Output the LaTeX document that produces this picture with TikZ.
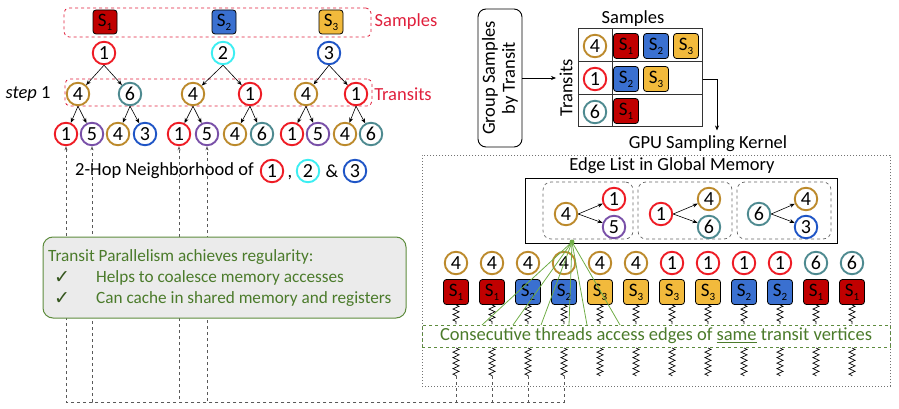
\documentclass[tikz,border=0pt]{standalone}
\usepackage{fontspec}
\setmainfont{Carlito}
\newfontfamily\djv{DejaVu Sans}
\usetikzlibrary{arrows.meta,decorations.pathmorphing,calc}
\definecolor{cRed}{HTML}{EE1C25}
\definecolor{cCyan}{HTML}{3DEEF2}
\definecolor{cBlue}{HTML}{1F55C6}
\definecolor{cGold}{HTML}{BC8A2C}
\definecolor{cTeal}{HTML}{4E8A90}
\definecolor{cPurple}{HTML}{7950A8}
\definecolor{sq1}{HTML}{C00000}
\definecolor{sq2}{HTML}{3A70D0}
\definecolor{sq3}{HTML}{F2BA3C}
\definecolor{labRed}{HTML}{E0203C}
\definecolor{txtGreen}{HTML}{4B7B2B}
\definecolor{lineGreen}{HTML}{70AD47}
\definecolor{boxGreen}{HTML}{5E8C3E}
\definecolor{boxFill}{HTML}{EBEBEB}
\newcommand\SmpS[1]{S\raisebox{-0.45ex}{\fontsize{11}{11}\selectfont #1}}
\begin{document}
\begin{tikzpicture}[x=1pt,y=-1pt,
  every node/.style={font=\fontsize{18.5}{20}\selectfont},
  circ/.style={circle,draw,line width=1.9pt,minimum size=22.5pt,inner sep=0pt,fill=white,font=\fontsize{20}{20}\selectfont},
  sq/.style={rounded corners=3pt,draw=black,line width=0.8pt,minimum size=24pt,inner sep=0pt,font=\fontsize{19}{20}\selectfont},
  tarr/.style={-{Stealth[length=5pt,width=4pt]},line width=0.6pt},
  redbox/.style={draw=labRed,dashed,rounded corners=5pt,line width=0.8pt,inner sep=0pt},
  conn/.style={dashed,draw=black!65,line width=0.7pt,-{Stealth[length=4pt,width=3pt]}},
  spring/.style={decorate,decoration={zigzag,amplitude=3pt,segment length=5.5pt},line width=0.7pt},
  gline/.style={draw=lineGreen,line width=0.8pt},
  grp/.style={draw=black!60,dashed,rounded corners=8pt,line width=0.7pt,inner sep=0pt},
  notetxt/.style={anchor=west,inner sep=0pt,text=txtGreen,font=\fontsize{17.2}{19}\selectfont}
]
\useasboundingbox (0,0) rectangle (899,409);

% ---------- left: samples and tree ----------
\node[redbox,minimum width=307pt,minimum height=29pt] (sbox) at (217.5,22.5) {};
\node[sq,fill=sq1] (ls1) at (105,22) {\SmpS1};
\node[sq,fill=sq2] (ls2) at (224,22) {\SmpS2};
\node[sq,fill=sq3] (ls3) at (331,22) {\SmpS3};
\node[text=labRed] (samplab) at (406,22) {Samples};

\node[circ,draw=cRed] (r1) at (104,53) {1};
\node[circ,draw=cCyan] (r2) at (223,53) {2};
\node[circ,draw=cBlue] (r3) at (329,53) {3};

\node[redbox,minimum width=307pt,minimum height=27pt] (tbox) at (218.5,92.5) {};
\node[text=labRed] (translab) at (403,94) {Transits};
\node (step) at (28,94) {\textit{step} 1};

\node[circ,draw=cGold] (t1a) at (78,94) {4};
\node[circ,draw=cTeal] (t1b) at (130,94) {6};
\node[circ,draw=cGold] (t2a) at (193,94) {4};
\node[circ,draw=cRed]  (t2b) at (250,94) {1};
\node[circ,draw=cGold] (t3a) at (306,94) {4};
\node[circ,draw=cRed]  (t3b) at (356,94) {1};

\foreach \p/\a/\b in {r1/t1a/t1b, r2/t2a/t2b, r3/t3a/t3b}{
  \draw[tarr] (\p.south) -- (\a);
  \draw[tarr] (\p.south) -- (\b);
}

\node[circ,draw=cRed]    (l11) at (66,134) {1};
\node[circ,draw=cPurple] (l12) at (92,134) {5};
\node[circ,draw=cGold]   (l13) at (118,134) {4};
\node[circ,draw=cBlue]   (l14) at (145,134) {3};
\node[circ,draw=cRed]    (l21) at (179,134) {1};
\node[circ,draw=cPurple] (l22) at (207,134) {5};
\node[circ,draw=cGold]   (l23) at (235,134) {4};
\node[circ,draw=cTeal]   (l24) at (262,134) {6};
\node[circ,draw=cRed]    (l31) at (292,134) {1};
\node[circ,draw=cPurple] (l32) at (318,134) {5};
\node[circ,draw=cGold]   (l33) at (345,134) {4};
\node[circ,draw=cTeal]   (l34) at (371,134) {6};

\foreach \p/\a/\b in {t1a/l11/l12, t1b/l13/l14, t2a/l21/l22, t2b/l23/l24, t3a/l31/l32, t3b/l33/l34}{
  \draw[tarr] (\p.south) -- (\a);
  \draw[tarr] (\p.south) -- (\b);
}

\node[anchor=west,inner sep=0pt] (hop) at (75,171) {2-Hop Neighborhood of};
\node[circ,draw=cRed]  (h1) at (272,171) {1};
\node[anchor=base,inner sep=0pt] (comma) at (290,177) {,};
\node[circ,draw=cCyan] (h2) at (308,171) {2};
\node[anchor=base,inner sep=0pt] (amp) at (332,177) {\&};
\node[circ,draw=cBlue] (h3) at (355,171) {3};

% ---------- right: grouping ----------
\node[draw=black,line width=0.9pt,rounded corners=8pt,minimum width=44pt,minimum height=138pt,inner sep=0pt] (grpbox) at (500,78) {};
\node[rotate=90,align=center,inner sep=0pt] (grptxt) at (500,78) {Group Samples\\by Transit};
\node[rotate=90,inner sep=0pt] (translab2) at (566,88) {Transits};
\coordinate (tabW) at (578,78);
\draw[tarr] (grpbox.east |- tabW) -- (556,78);

\node[draw=black!80,line width=1pt,minimum width=124pt,minimum height=98pt,inner sep=0pt] (tab) at (640,78) {};
\draw[black!80,line width=1pt] (612,29) -- (612,127);
\draw[black!80,line width=1pt] (578,62) -- (702,62);
\draw[black!80,line width=1pt] (578,95) -- (702,95);
\node (tabsamp) at (633,19) {Samples};

\node[circ,draw=cGold] (rw1) at (595,46) {4};
\node[circ,draw=cRed]  (rw2) at (595,79) {1};
\node[circ,draw=cTeal] (rw3) at (595,112) {6};
\node[sq,fill=sq1,minimum size=25pt] (g11) at (626,46) {\SmpS1};
\node[sq,fill=sq2,minimum size=25pt] (g12) at (656,46) {\SmpS2};
\node[sq,fill=sq3,minimum size=25pt] (g13) at (686,46) {\SmpS3};
\node[sq,fill=sq2,minimum size=25pt] (g21) at (626,79) {\SmpS2};
\node[sq,fill=sq3,minimum size=25pt] (g22) at (656,79) {\SmpS3};
\node[sq,fill=sq1,minimum size=25pt] (g31) at (626,111) {\SmpS1};

\node (gpulab) at (708,144) {GPU Sampling Kernel};
\draw[tarr] (tab.east |- rw2) -| ($(gpulab.north)+(9,-2)$);

% ---------- GPU kernel ----------
\node[draw=black!55,dotted,line width=1pt,minimum width=468pt,minimum height=231pt,inner sep=0pt] (gpu) at (656,270.5) {};
\node (edgelab) at (672,166) {Edge List in Global Memory};
\node[draw=black,line width=1pt,minimum width=312pt,minimum height=65pt,inner sep=0pt] (ebox) at (681,210.5) {};
\node[grp,minimum width=90pt,minimum height=57pt] (eg1) at (588,210.5) {};
\node[grp,minimum width=94pt,minimum height=57pt] (eg2) at (685,210.5) {};
\node[grp,minimum width=94pt,minimum height=57pt] (eg3) at (784,210.5) {};

\node[circ,draw=cGold]   (e14) at (566,214) {4};
\node[circ,draw=cRed]    (e11) at (614,199) {1};
\node[circ,draw=cPurple] (e15) at (614,227) {5};
\node[circ,draw=cRed]    (e21) at (661,214) {1};
\node[circ,draw=cGold]   (e24) at (709,199) {4};
\node[circ,draw=cTeal]   (e26) at (709,227) {6};
\node[circ,draw=cTeal]   (e36) at (759,214) {6};
\node[circ,draw=cGold]   (e34) at (806,199) {4};
\node[circ,draw=cBlue]   (e33) at (806,227) {3};
\foreach \p/\a/\b in {e14/e11/e15, e21/e24/e26, e36/e34/e33}{
  \draw[tarr] (\p.east) -- (\a);
  \draw[tarr] (\p.east) -- (\b);
}

\node[draw=boxGreen,dashed,line width=0.8pt,minimum width=468pt,minimum height=22pt,inner sep=0pt,text=txtGreen] (cons) at (656,336)
  {Consecutive threads access edges of \underline{same} transit vertices};

\foreach \i/\n/\c/\s in {0/4/cGold/1, 1/4/cGold/1, 2/4/cGold/2, 3/4/cGold/2, 4/4/cGold/3, 5/4/cGold/3,
                         6/1/cRed/3, 7/1/cRed/3, 8/1/cRed/2, 9/1/cRed/2, 10/6/cTeal/1, 11/6/cTeal/1}{
  \pgfmathsetmacro\xx{456+36*\i}
  \node[circ,draw=\c] (tc\i) at (\xx,263) {\n};
  \node[sq,fill=sq\s,minimum size=25pt] (ts\i) at (\xx,292) {\SmpS{\s}};
  \coordinate (ub\i) at (\xx,324);
  \coordinate (la\i) at (\xx,348);
  \coordinate (lb\i) at (\xx,376);
  \draw[spring] (ts\i.south) -- (ub\i);
  \draw[spring] (la\i) -- (lb\i);
}

% green fan lines
\coordinate (gsrc) at (572,242);
\foreach \j/\gx in {1/482,2/513,3/541,4/569,5/587,6/620}{
  \coordinate (gt\j) at (\gx,325);
  \draw[gline] (gsrc) -- (gt\j);
}
\fill[lineGreen] (gsrc) circle (2.5pt);

% ---------- dashed connectors back to leaves ----------
\coordinate (base) at (0,402);
\foreach \i/\l in {0/l11,1/l12,2/l21,3/l22}{
  \draw[conn] (lb\i) -- (lb\i |- base) -| (\l.south);
}

% ---------- green note ----------
\node[draw=boxGreen,fill=boxFill,line width=1pt,rounded corners=10pt,minimum width=363pt,minimum height=81pt,inner sep=0pt] (note) at (224.5,277.5) {};
\node[notetxt] (n1) at (48,257) {Transit Parallelism achieves regularity:};
\node[text=txtGreen!70!black,inner sep=0pt] (ck1) at (62,278) {\djv\fontsize{19}{19}\selectfont ✓};
\node[text=txtGreen!70!black,inner sep=0pt] (ck2) at (62,299) {\djv\fontsize{19}{19}\selectfont ✓};
\node[notetxt] (n2) at (96,278) {Helps to coalesce memory accesses};
\node[notetxt] (n3) at (96,299) {Can cache in shared memory and registers};
\end{tikzpicture}
\end{document}
